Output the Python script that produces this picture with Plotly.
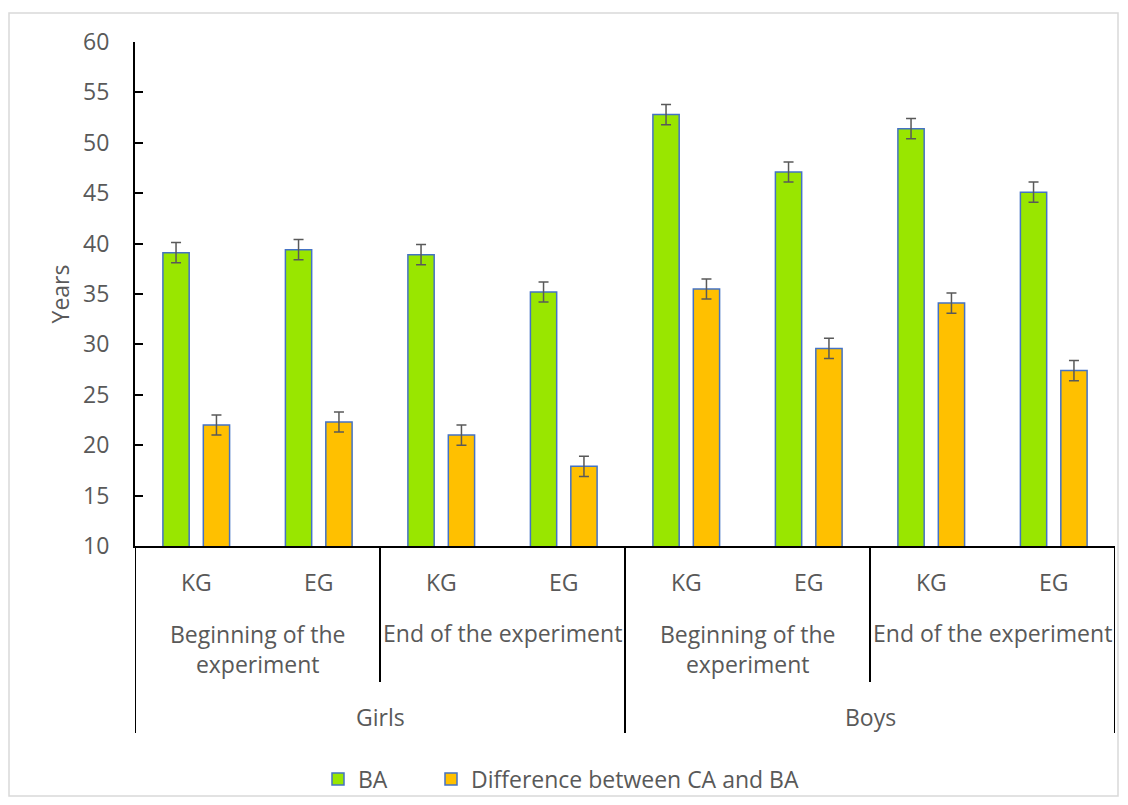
import plotly.graph_objects as go

genders = ["Girls", "Girls", "Girls", "Girls", "Boys", "Boys", "Boys", "Boys"]
stages = ["Beginning of the<br>experiment", "Beginning of the<br>experiment",
          "End of the experiment", "End of the experiment",
          "Beginning of the<br>experiment", "Beginning of the<br>experiment",
          "End of the experiment", "End of the experiment"]
groups = ["KG", "EG", "KG", "EG", "KG", "EG", "KG", "EG"]
categories = [f"{g}|{s}|{k}" for g, s, k in zip(genders, stages, groups)]

ba = [39.1, 39.4, 38.9, 35.2, 52.8, 47.1, 51.4, 45.1]
ba_err = [1.0, 1.0, 1.0, 1.0, 1.0, 1.0, 1.0, 1.0]
diff = [22.0, 22.3, 21.0, 17.9, 35.5, 29.6, 34.1, 27.4]
diff_err = [1.0, 1.0, 1.0, 1.0, 1.0, 1.0, 1.0, 1.0]
y_ticks = [10, 15, 20, 25, 30, 35, 40, 45, 50, 55, 60]

TXT = "#595959"
FONT = "Open Sans"
FS = 23

fig = go.Figure()
fig.add_trace(go.Bar(
    x=categories, y=ba, name="BA", legend="legend",
    marker=dict(color="#99E600", line=dict(color="#4472C4", width=1.5)),
    error_y=dict(type="data", array=ba_err, color="#595959", thickness=1.5, width=5),
))
fig.add_trace(go.Bar(
    x=categories, y=diff, name="Difference between CA and BA", legend="legend2",
    marker=dict(color="#FFC000", line=dict(color="#4472C4", width=1.5)),
    error_y=dict(type="data", array=diff_err, color="#595959", thickness=1.5, width=5),
))

W, H = 1112, 789   # page has an 8px body margin; figure sized so no scrollbars appear


def py(pix):
    # page pixel y -> paper coordinate of the plot area (page y 42..546)
    return (546 - pix) / 504


def px(pix):
    # page pixel x -> paper coordinate of the plot area (page x 135..1115)
    return (pix - 135) / 980


annotations = []
for i, k in enumerate(groups):
    annotations.append(dict(x=i, y=py(582), xref="x", yref="paper", text=k,
                            showarrow=False, yanchor="middle",
                            font=dict(size=FS, color=TXT, family=FONT)))
for j in range(4):
    s = stages[2 * j]
    annotations.append(dict(x=2 * j + 0.5, y=py(649 if "<br>" in s else 633),
                            xref="x", yref="paper", text=s, showarrow=False,
                            yanchor="middle",
                            font=dict(size=FS, color=TXT, family=FONT)))
for j in range(2):
    annotations.append(dict(x=4 * j + 1.5, y=py(717), xref="x", yref="paper",
                            text=genders[4 * j], showarrow=False, yanchor="middle",
                            font=dict(size=FS, color=TXT, family=FONT)))

shapes = []
line = dict(color="black", width=2)
for xb, bottom in [(-0.5, 733), (1.5, 682), (3.5, 733), (5.5, 682), (7.5, 733)]:
    shapes.append(dict(type="line", xref="x", yref="paper", x0=xb, x1=xb,
                       y0=py(546), y1=py(bottom), line=line))
shapes.append(dict(type="rect", xref="paper", yref="paper",
                   x0=px(9), x1=px(1118), y0=py(796), y1=py(13),
                   line=dict(color="#D9D9D9", width=1.5), layer="below"))

leg_common = dict(orientation="h", xref="container", yref="container",
                  xanchor="left", yanchor="middle", y=(H - (779 - 8)) / H,
                  bgcolor="rgba(0,0,0,0)",
                  font=dict(size=FS, color=TXT, family=FONT))

fig.update_layout(
    width=W, height=H,
    margin=dict(l=127, r=5, t=34, b=251, autoexpand=False),
    plot_bgcolor="white", paper_bgcolor="white",
    barmode="group", bargap=0.34, bargroupgap=0.35,
    font=dict(family=FONT, size=FS, color=TXT),
    showlegend=True,
    legend=dict(x=(318 - 8) / W, **leg_common),
    legend2=dict(x=(431 - 8) / W, **leg_common),
    annotations=annotations,
    shapes=shapes,
    xaxis=dict(type="category", categoryorder="array", categoryarray=categories,
               range=[-0.5, 7.5], showticklabels=False, showgrid=False,
               showline=True, linecolor="black", linewidth=2, ticks="",
               zeroline=False, automargin=False),
    yaxis=dict(range=[10, 60], tickvals=y_ticks, showgrid=False,
               showline=True, linecolor="black", linewidth=2,
               ticks="inside", ticklen=8, tickwidth=2, tickcolor="black",
               ticklabelstandoff=19, zeroline=False, automargin=False,
               tickfont=dict(size=FS, color=TXT, family=FONT),
               title=dict(text="Years", standoff=7,
                          font=dict(size=FS, color=TXT, family=FONT))),
)

fig.write_html("out.html")
